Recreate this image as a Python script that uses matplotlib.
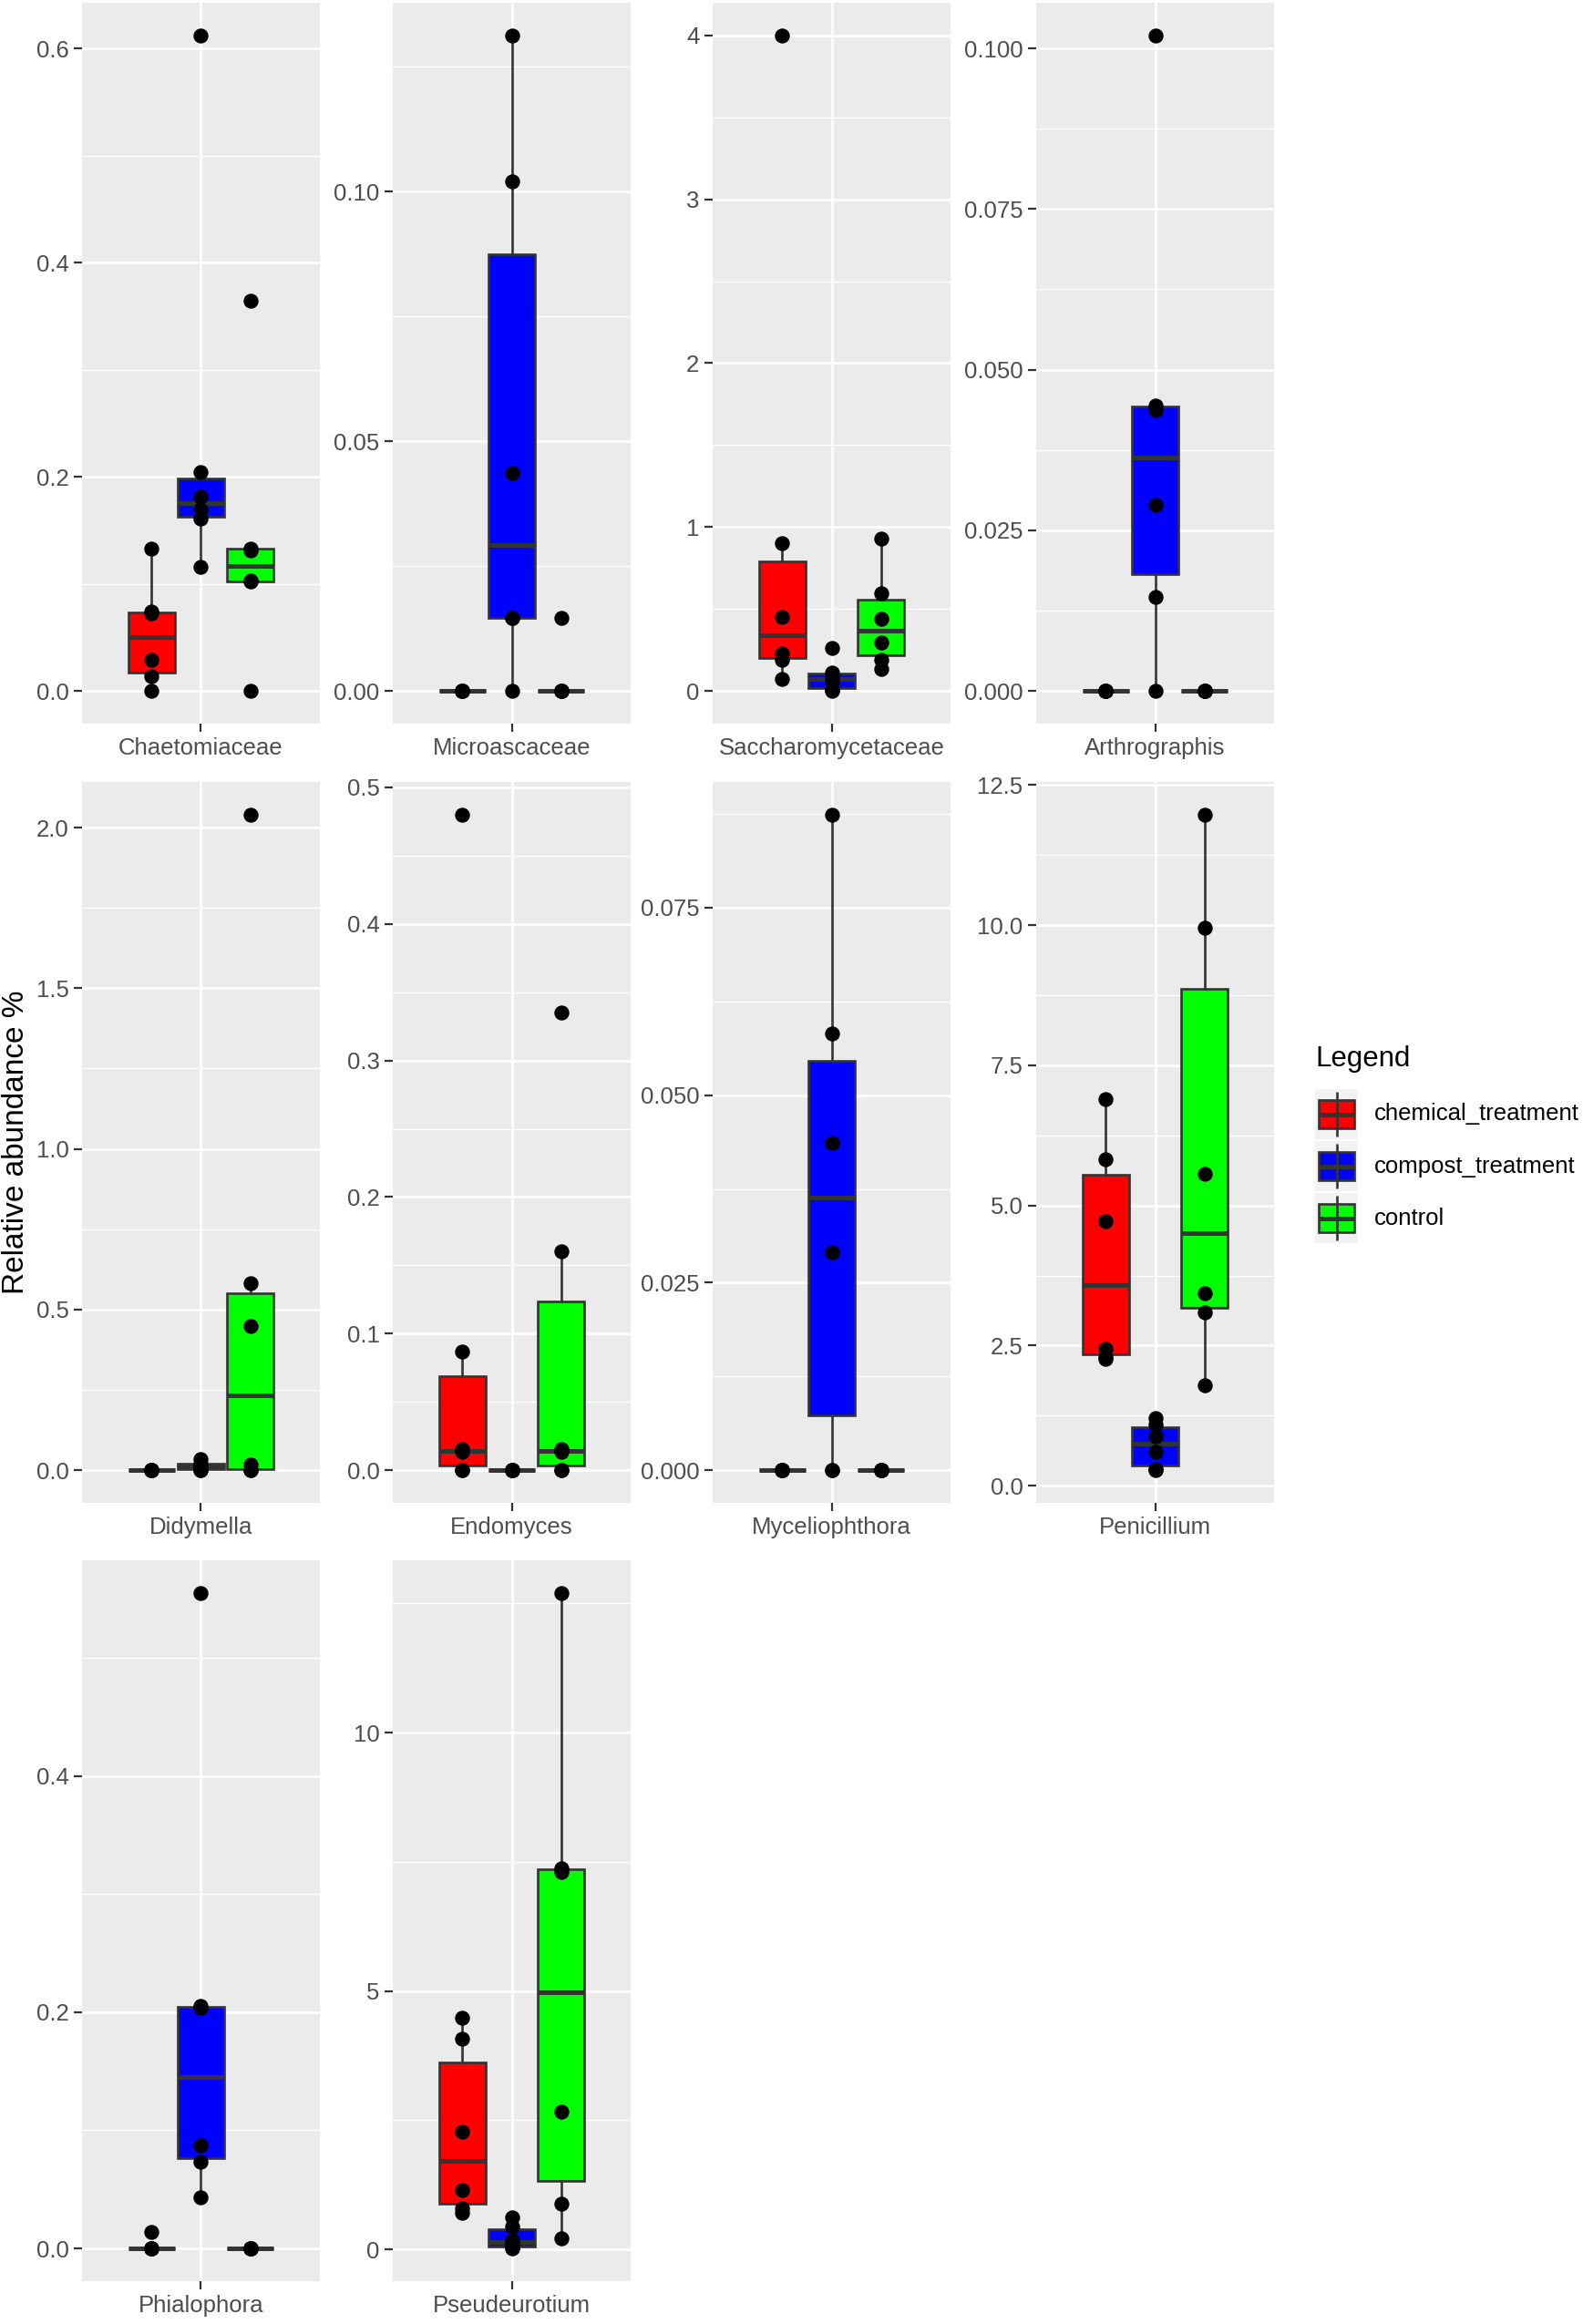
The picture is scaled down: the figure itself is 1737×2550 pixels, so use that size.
import numpy as np
import matplotlib
matplotlib.use("Agg")
import matplotlib.pyplot as plt
from matplotlib.patches import Rectangle

plt.rcParams['font.family'] = ['Liberation Sans', 'DejaVu Sans']

# Datos (abundancia relativa %, 6 replicas por grupo)
generos = ['Chaetomiaceae', 'Microascaceae', 'Saccharomycetaceae', 'Arthrographis',
           'Didymella', 'Endomyces', 'Myceliophthora', 'Penicillium',
           'Phialophora', 'Pseudeurotium']

chemical_treatment = [
    [0, 0.0135, 0.029, 0.072, 0.074, 0.133],
    [0, 0, 0, 0, 0, 0],
    [0.073, 0.19, 0.226, 0.452, 0.90, 4.0],
    [0, 0, 0, 0, 0, 0],
    [0, 0, 0, 0, 0, 0],
    [0, 0, 0.0134, 0.0152, 0.0869, 0.480],
    [0, 0, 0, 0, 0, 0],
    [2.26, 2.30, 2.45, 4.72, 5.83, 6.89],
    [0, 0, 0, 0, 0, 0.0139],
    [0.70, 0.80, 1.15, 2.28, 4.07, 4.49],
]
compost_treatment = [
    [0.116, 0.161, 0.169, 0.181, 0.2045, 0.612],
    [0, 0.0147, 0.0147, 0.0437, 0.1021, 0.1313],
    [0, 0.006, 0.055, 0.085, 0.114, 0.264],
    [0, 0.0146, 0.029, 0.0437, 0.0444, 0.102],
    [0, 0, 0.01, 0.015, 0.02, 0.034],
    [0, 0, 0, 0, 0, 0],
    [0, 0, 0.0291, 0.0436, 0.0582, 0.0874],
    [0.28, 0.29, 0.61, 0.88, 1.10, 1.20],
    [0.0435, 0.073, 0.087, 0.204, 0.205, 0.555],
    [0.02, 0.04, 0.12, 0.18, 0.45, 0.62],
]
control = [
    [0, 0.102, 0.103, 0.131, 0.133, 0.364],
    [0, 0, 0, 0, 0, 0.0147],
    [0.132, 0.19, 0.294, 0.44, 0.596, 0.93],
    [0, 0, 0, 0, 0, 0],
    [0, 0, 0.017, 0.449, 0.583, 2.04],
    [0, 0, 0.0134, 0.0152, 0.160, 0.3348],
    [0, 0, 0, 0, 0, 0],
    [1.80, 3.09, 3.44, 5.57, 9.96, 11.97],
    [0, 0, 0, 0, 0, 0],
    [0.22, 0.89, 2.665, 7.30, 7.38, 12.70],
]

# Marcas del eje y de cada panel y decimales de sus etiquetas
marcas_y = [
    [0.0, 0.2, 0.4, 0.6],
    [0.00, 0.05, 0.10],
    [0, 1, 2, 3, 4],
    [0.000, 0.025, 0.050, 0.075, 0.100],
    [0.0, 0.5, 1.0, 1.5, 2.0],
    [0.0, 0.1, 0.2, 0.3, 0.4, 0.5],
    [0.000, 0.025, 0.050, 0.075],
    [0.0, 2.5, 5.0, 7.5, 10.0, 12.5],
    [0.0, 0.2, 0.4],
    [0, 5, 10],
]
decimales = [1, 2, 0, 3, 1, 1, 3, 1, 1, 0]

grupos = ['chemical_treatment', 'compost_treatment', 'control']
colores = ['#FF0000', '#0000FF', '#00FF00']

W, H = 1737, 2550
fig = plt.figure(figsize=(W / 100, H / 100), dpi=100)

col_izq = [90, 431, 782, 1137]
fila_sup = [3, 858, 1712]
ancho_p, alto_p = 261, 791

posiciones = [0.75, 1.0, 1.25]
gris20 = '#333333'
gris30 = '#4D4D4D'
lw_caja = 1.9
lw_mediana = 3.6

for i, gen in enumerate(generos):
    fila, col = divmod(i, 4)
    x0 = col_izq[col]
    y0 = fila_sup[fila]
    ax = fig.add_axes([x0 / W, 1 - (y0 + alto_p) / H, ancho_p / W, alto_p / H])
    ax.set_facecolor('#EBEBEB')
    for s in ax.spines.values():
        s.set_visible(False)
    ax.set_axisbelow(True)

    datos = [chemical_treatment[i], compost_treatment[i], control[i]]
    bp = ax.boxplot(datos, positions=posiciones, widths=0.235, patch_artist=True,
                    showfliers=False, showcaps=False, whis=1.5,
                    boxprops=dict(edgecolor=gris20, linewidth=lw_caja),
                    medianprops=dict(color=gris20, linewidth=lw_mediana, solid_capstyle='butt'),
                    whiskerprops=dict(color=gris20, linewidth=lw_caja))
    for caja, c in zip(bp['boxes'], colores):
        caja.set_facecolor(c)
    for p, vals in zip(posiciones, datos):
        ax.plot([p] * len(vals), vals, 'o', color='black', ms=10.8, zorder=4)

    mt = marcas_y[i]
    paso = mt[1] - mt[0]
    menores = np.arange(mt[0] - paso / 2, mt[-1] + paso, paso)
    ax.set_yticks(mt)
    ax.set_yticklabels([f'{v:.{decimales[i]}f}' for v in mt])
    ax.set_yticks(menores, minor=True)
    ax.set_xticks([1])
    ax.set_xticklabels([gen])

    # limites como ggplot: rango de datos + 5 % por lado
    todos = np.concatenate(datos)
    lo, hi = todos.min(), todos.max()
    rango = hi - lo
    ax.set_ylim(lo - 0.05 * rango, hi + 0.05 * rango)
    ax.set_xlim(0.4, 1.6)

    ax.grid(which='major', color='white', linewidth=2.0)
    ax.grid(which='minor', axis='y', color='white', linewidth=1.0)
    ax.tick_params(which='major', length=6.5, width=1.6, color=gris20,
                   labelsize=18.5, labelcolor=gris30, pad=4)
    ax.tick_params(which='minor', length=0)

# Titulo del eje y
fig.text(18 / W, 1 - 1253 / H, 'Relative abundance %', rotation=90,
         ha='center', va='center', fontsize=24, color='black')

# Leyenda dibujada a mano (estilo ggplot)
axl = fig.add_axes([0, 0, 1, 1])
axl.set_xlim(0, W)
axl.set_ylim(H, 0)
axl.axis('off')
axl.patch.set_alpha(0)

axl.text(1443, 1162, 'Legend', fontsize=22.5, ha='left', va='center', color='black')
for k, (g, c) in enumerate(zip(grupos, colores)):
    top = 1195 + k * 57
    axl.add_patch(Rectangle((1443, top), 47, 55, facecolor='#F2F2F2', edgecolor='none'))
    cx = 1466.5
    axl.plot([cx, cx], [top + 3, top + 52], color=gris20, lw=lw_caja, solid_capstyle='butt')
    axl.add_patch(Rectangle((1447, top + 12), 39, 31, facecolor=c, edgecolor=gris20, lw=lw_caja))
    axl.plot([1447, 1486], [top + 27.5, top + 27.5], color=gris20, lw=lw_mediana, solid_capstyle='butt')
    axl.text(1508, top + 27.5, g, fontsize=18.5, ha='left', va='center', color='black')

fig.savefig('out.png', dpi=100, facecolor='white')
